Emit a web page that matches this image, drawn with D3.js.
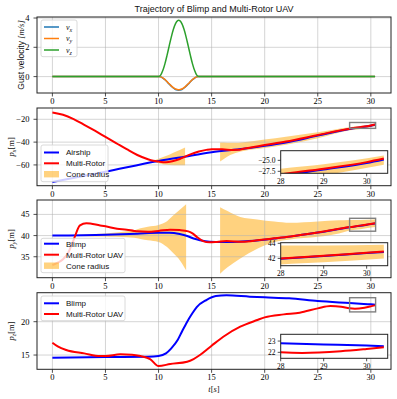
<!DOCTYPE html>
<html>
<head>
<meta charset="utf-8">
<script src="https://cdn.jsdelivr.net/npm/d3@7"></script>
<style>
body { margin: 0; background: #fff; }
svg  { display: block; }
</style>
</head>
<body>
<svg id="chart" width="397" height="399"></svg>
<script>
"use strict"

// gust velocity components
var gustT  = [0, 10, 10.2, 10.4, 10.6, 10.8, 11, 11.2, 11.4, 11.6, 11.8, 11.9, 12, 12.2, 12.4, 12.6, 12.8, 13, 13.2, 13.4, 13.6, 13.8, 30.4];
var gustVx = [0, 0, -0.02, -0.10, -0.21, -0.35, -0.51, -0.65, -0.78, -0.88, -0.92, -0.93, -0.92, -0.88, -0.78, -0.65, -0.51, -0.35, -0.21, -0.10, -0.02, 0, 0];
var gustVy = [0, 0, -0.02, -0.09, -0.20, -0.34, -0.49, -0.63, -0.75, -0.85, -0.89, -0.90, -0.89, -0.85, -0.75, -0.63, -0.49, -0.34, -0.20, -0.09, -0.02, 0, 0];
var gustVz = [0, 0, 0.10, 0.41, 0.87, 1.45, 2.08, 2.70, 3.23, 3.62, 3.82, 3.85, 3.82, 3.62, 3.23, 2.70, 2.08, 1.45, 0.87, 0.41, 0.10, 0, 0];

// p_x
var pxBlueT = [0, 5, 10, 12, 15, 18, 20, 22, 25, 28, 29, 30, 30.4];
var pxBlue  = [-75, -66, -56.5, -53.5, -48.8, -45.8, -43.3, -40.3, -34.3, -28.5, -27.1, -25.6, -24.8];
var pxRedT  = [0, 1, 2, 3, 4, 5, 6, 7, 8, 9, 9.5, 10, 10.7, 11.3, 12, 12.5, 13, 13.8, 14.5, 15, 16, 17, 17.5, 18, 20, 22, 25, 28, 29, 30, 30.4];
var pxRed   = [-14, -16, -19.8, -24.8, -30, -35.4, -40.8, -46.2, -51.3, -55, -56.3, -57, -57.6, -56.8, -54.8, -52.7, -50.8, -48.3, -46.8, -46.2, -46.3, -46.9, -46.8, -45.8, -42.6, -39.5, -33.8, -28.2, -26.9, -25.4, -24.6];
var pxCone1T  = [9.5, 10, 11, 12, 12.5];
var pxCone1Hi = [-56.3, -54.5, -51, -47, -44.8];
var pxCone1Lo = [-57, -58.5, -60, -60.2, -60.3];
var pxCone2T  = [15.8, 16.5, 17.5, 18, 20, 22, 25, 28, 29, 30.4];
var pxCone2Hi = [-40.4, -40.5, -40.6, -40.2, -37.8, -35.2, -31.3, -26.9, -25.9, -23.9];
var pxCone2Lo = [-57, -52.5, -48.8, -47.8, -45.2, -42.3, -36.7, -29.7, -28.4, -26];

// p_y
var pyBlueT = [0, 5, 8, 10, 11, 12, 12.7, 13.3, 13.9, 14.8, 16, 17, 18.5, 19.5, 20.9, 22.4, 25, 28, 29, 30, 30.4];
var pyBlue  = [40, 40.2, 40.45, 40.65, 40.65, 40.35, 39.9, 39.3, 38.9, 38.55, 38.5, 38.5, 38.7, 38.9, 39.3, 39.75, 40.7, 41.95, 42.3, 42.7, 42.85];
var pyRedT  = [0, 0.5, 1, 1.5, 2, 2.6, 3.2, 4.5, 5, 6.1, 7, 7.7, 8, 9, 10, 11.1, 12, 12.8, 13.2, 13.6, 14.2, 14.8, 15.5, 16.4, 17.9, 19.5, 20.9, 22.4, 25, 28, 29, 30, 30.4];
var pyRed   = [33, 33.6, 34.4, 36, 39, 42.4, 42.9, 42.4, 42.2, 41.6, 41.4, 41.1, 41, 40.9, 41.1, 41.4, 41.3, 41, 40.5, 39.7, 38.7, 38.4, 38.5, 38.7, 38.55, 38.95, 39.35, 39.8, 40.75, 42.0, 42.35, 42.75, 42.9];
var pyCone1T  = [2.6, 4, 5, 6, 7, 7.7, 8.3, 9, 10, 10.8, 11.4, 12, 12.6];
var pyCone1Hi = [40.2, 40.4, 40.5, 40.7, 41, 41.2, 41.7, 42.1, 42.5, 43.4, 44.8, 46.1, 47.4];
var pyCone1Lo = [39.9, 39.8, 39.8, 39.7, 39.6, 39.5, 39.2, 38.9, 38.5, 37.3, 35.8, 34.2, 31.8];
var pyCone2T  = [15.8, 16.5, 17.7, 19.3, 20.9, 22.4, 25, 27, 28, 29, 30.4];
var pyCone2Hi = [46.7, 45.8, 44.4, 43.8, 43.3, 43.0, 43.3, 43.6, 43.7, 43.7, 43.8];
var pyCone2Lo = [31.0, 32.5, 34.6, 36.9, 38.5, 39.1, 39.7, 40.5, 41.2, 41.5, 42.0];

// p_z
var pzBlueT = [0, 5, 9, 10, 10.7, 11.2, 11.8, 12.2, 12.7, 13.2, 13.6, 14.5, 15.4, 16.4, 18.6, 20, 22.3, 25, 28, 29, 30, 30.4];
var pzBlue  = [14.6, 14.7, 14.75, 14.85, 15.25, 16.0, 17.25, 18.5, 20.0, 21.3, 22.2, 23.25, 23.85, 23.95, 23.75, 23.65, 23.5, 23.1, 22.8, 22.7, 22.6, 22.55];
var pzRedT  = [0, 0.5, 1.3, 3, 4.5, 5, 6.4, 7.5, 8.3, 8.9, 9.2, 10, 11.1, 12.7, 13.3, 13.9, 15, 16.1, 17.7, 19.3, 20, 21.8, 23.3, 25, 26.2, 27.2, 28, 28.5, 29.4, 30, 30.4];
var pzRed   = [16.85, 16.3, 15.75, 15.25, 14.85, 14.85, 15.1, 15.05, 14.85, 14.6, 14.4, 13.35, 13.65, 14.0, 14.4, 15.0, 16.4, 17.75, 19.25, 20.25, 20.65, 21.1, 21.35, 22.0, 22.35, 22.25, 22.0, 21.95, 22.1, 22.3, 22.45];

var xTicks      = [0, 5, 10, 15, 20, 25, 30];
var insetXTicks = [28, 29, 30];

var serif = '"Liberation Serif", "DejaVu Serif", serif';
var sans  = '"Liberation Sans", "DejaVu Sans", sans-serif';
var coneColor = '#ffa500';

var svg = d3.select('#chart');
var defs = svg.append('defs');

var xMain  = d3.scaleLinear().domain([-1.45, 31.9]).range([37, 391]);
var xInset = d3.scaleLinear().domain([28, 30.49]).range([280.7, 387.7]);

function zip(t, v) { return t.map((d, i) => [d, v[i]]); }
function zip3(t, lo, hi) { return t.map((d, i) => ({ t: d, lo: lo[i], hi: hi[i] })); }
function fmt(v, dec) {
    var s = Math.abs(v).toFixed(dec);
    return (v < 0 ? '\u2212' : '') + s;
}

function richText(sel, parts) {
    parts.forEach(function(p) {
        var ts = sel.append('tspan').text(p.t);
        if (p.f)   ts.attr('font-family', p.f);
        if (p.it)  ts.attr('font-style', 'italic');
        if (p.dy)  ts.attr('dy', p.dy);
        if (p.fs)  ts.attr('font-size', p.fs);
    });
}

var clipId = 0;
function drawData(g, x, y, lines, cones) {
    var id = 'clip' + (clipId++);
    var r = x.range(), ry = y.range();
    defs.append('clipPath').attr('id', id).append('rect')
        .attr('x', r[0]).attr('y', ry[1])
        .attr('width', r[1] - r[0]).attr('height', ry[0] - ry[1]);
    var c = g.append('g').attr('clip-path', 'url(#' + id + ')');
    var area = d3.area()
        .x(d => x(d.t)).y0(d => y(d.lo)).y1(d => y(d.hi))
        .curve(d3.curveMonotoneX);
    cones.forEach(function(cn) {
        c.append('path').attr('d', area(cn))
            .attr('fill', coneColor).attr('fill-opacity', 0.5);
    });
    return c;
}

function drawLines(c, x, y, lines) {
    var line = d3.line().x(d => x(d[0])).y(d => y(d[1])).curve(d3.curveMonotoneX);
    lines.forEach(function(ln) {
        c.append('path').attr('d', line(ln.data))
            .attr('fill', 'none').attr('stroke', ln.color)
            .attr('stroke-width', ln.width).attr('stroke-linejoin', 'round');
    });
}

function drawLegend(g, box, items) {
    g.append('rect')
        .attr('x', box[0]).attr('y', box[1])
        .attr('width', box[2] - box[0]).attr('height', box[3] - box[1])
        .attr('rx', 2).attr('fill', '#fff').attr('fill-opacity', 0.8)
        .attr('stroke', '#d0d0d0').attr('stroke-width', 0.8);
    items.forEach(function(it) {
        if (it.patch)
            g.append('rect').attr('x', box[0] + 3).attr('y', it.y - 3.2)
                .attr('width', 15).attr('height', 6.4)
                .attr('fill', coneColor).attr('fill-opacity', 0.5);
        else
            g.append('line').attr('x1', box[0] + 3).attr('x2', box[0] + 18)
                .attr('y1', it.y).attr('y2', it.y)
                .attr('stroke', it.color).attr('stroke-width', it.width);
        var t = g.append('text').attr('x', box[0] + 25).attr('y', it.y + 2.9)
            .attr('font-family', sans).attr('font-size', '8px').attr('fill', '#111');
        richText(t, it.label);
    });
}

function drawInset(g, inset, lines, cones) {
    var y = d3.scaleLinear().domain(inset.y).range([inset.bottom, inset.top]);
    // zoom marker in the main axes
    g.append('rect')
        .attr('x', inset.xMain(28)).attr('y', inset.yMain(inset.y[1]))
        .attr('width', inset.xMain(30.45) - inset.xMain(28))
        .attr('height', inset.yMain(inset.y[0]) - inset.yMain(inset.y[1]))
        .attr('fill', 'none').attr('stroke', '#808080').attr('stroke-width', 1.4);
    var ig = g.append('g');
    ig.append('rect').attr('x', 280.7).attr('y', inset.top)
        .attr('width', 107).attr('height', inset.bottom - inset.top).attr('fill', '#fff');
    var c = drawData(ig, xInset, y, lines, cones);
    drawLines(c, xInset, y, lines);
    ig.append('rect').attr('x', 280.7).attr('y', inset.top)
        .attr('width', 107).attr('height', inset.bottom - inset.top)
        .attr('fill', 'none').attr('stroke', '#222').attr('stroke-width', 1);
    insetXTicks.forEach(function(v) {
        ig.append('line').attr('x1', xInset(v)).attr('x2', xInset(v))
            .attr('y1', inset.bottom).attr('y2', inset.bottom + 3)
            .attr('stroke', '#222').attr('stroke-width', 0.8);
        ig.append('text').attr('x', xInset(v)).attr('y', inset.bottom + 10.5)
            .attr('text-anchor', 'middle').attr('font-family', serif)
            .attr('font-size', '7.5px').text(v);
    });
    inset.yTicks.forEach(function(v) {
        ig.append('line').attr('x1', 280.7).attr('x2', 277.7)
            .attr('y1', y(v)).attr('y2', y(v))
            .attr('stroke', '#222').attr('stroke-width', 0.8);
        ig.append('text').attr('x', 275.5).attr('y', y(v) + 2.6)
            .attr('text-anchor', 'end').attr('font-family', serif)
            .attr('font-size', '7.5px').text(fmt(v, inset.dec));
    });
}

function drawPanel(p) {
    var g = svg.append('g');
    var y = d3.scaleLinear().domain(p.y).range([p.bottom, p.top]);
    var c = drawData(g, xMain, y, p.lines, p.cones);

    // grid above the cone fill, below the lines
    xTicks.forEach(function(v) {
        c.append('line').attr('x1', xMain(v)).attr('x2', xMain(v))
            .attr('y1', p.top).attr('y2', p.bottom)
            .attr('stroke', '#b0b0b0').attr('stroke-opacity', 0.6).attr('stroke-width', 0.9);
    });
    p.yTicks.forEach(function(v) {
        c.append('line').attr('x1', 37).attr('x2', 391)
            .attr('y1', y(v)).attr('y2', y(v))
            .attr('stroke', '#b0b0b0').attr('stroke-opacity', 0.6).attr('stroke-width', 0.9);
    });
    drawLines(c, xMain, y, p.lines);

    g.append('rect').attr('x', 37).attr('y', p.top)
        .attr('width', 354).attr('height', p.bottom - p.top)
        .attr('fill', 'none').attr('stroke', '#222').attr('stroke-width', 1);

    xTicks.forEach(function(v) {
        g.append('line').attr('x1', xMain(v)).attr('x2', xMain(v))
            .attr('y1', p.bottom).attr('y2', p.bottom + 3.5)
            .attr('stroke', '#222').attr('stroke-width', 0.8);
        g.append('text').attr('x', xMain(v)).attr('y', p.bottom + 11)
            .attr('text-anchor', 'middle').attr('font-family', serif)
            .attr('font-size', '8.5px').text(v);
    });
    p.yTicks.forEach(function(v) {
        g.append('line').attr('x1', 37).attr('x2', 33.5)
            .attr('y1', y(v)).attr('y2', y(v))
            .attr('stroke', '#222').attr('stroke-width', 0.8);
        g.append('text').attr('x', 29.5).attr('y', y(v) + 3)
            .attr('text-anchor', 'end').attr('font-family', serif)
            .attr('font-size', '8.5px').text(fmt(v, 0));
    });

    var cy = (p.top + p.bottom) / 2;
    var yl = g.append('text')
        .attr('transform', 'translate(' + p.ylabelX + ',' + cy + ') rotate(-90)')
        .attr('text-anchor', 'middle').attr('font-size', '8.5px').attr('fill', '#111');
    richText(yl, p.ylabel);

    drawLegend(g, p.legendBox, p.legend);

    if (p.inset) {
        p.inset.xMain = xMain;
        p.inset.yMain = y;
        drawInset(g, p.inset, p.lines, p.cones);
    }
}

var sub = function(s) { return [{ t: s, f: serif, it: true, dy: 2, fs: '6px' }]; };

var panels = [
    {
        top: 17, bottom: 93, y: [-1.12, 4.07], yTicks: [0, 2, 4],
        lines: [
            { data: zip(gustT, gustVx), color: '#1f77b4', width: 1.5 },
            { data: zip(gustT, gustVy), color: '#ff7f0e', width: 1.5 },
            { data: zip(gustT, gustVz), color: '#2ca02c', width: 1.5 }
        ],
        cones: [],
        ylabelX: 23.5,
        ylabel: [{ t: 'Gust velocity ', f: sans }, { t: '[m/s]', f: serif, it: true }],
        legendBox: [41, 20, 77, 56.7],
        legend: [
            { y: 27,   color: '#1f77b4', width: 1.5, label: [{ t: 'v', f: serif, it: true }].concat(sub('x')) },
            { y: 38.5, color: '#ff7f0e', width: 1.5, label: [{ t: 'v', f: serif, it: true }].concat(sub('y')) },
            { y: 50,   color: '#2ca02c', width: 1.5, label: [{ t: 'v', f: serif, it: true }].concat(sub('z')) }
        ]
    },
    {
        top: 108, bottom: 185.7, y: [-78.2, -10.1], yTicks: [-60, -40, -20],
        lines: [
            { data: zip(pxBlueT, pxBlue), color: '#0000ff', width: 2 },
            { data: zip(pxRedT, pxRed),   color: '#ff0000', width: 2 }
        ],
        cones: [zip3(pxCone1T, pxCone1Lo, pxCone1Hi), zip3(pxCone2T, pxCone2Lo, pxCone2Hi)],
        ylabelX: 13.5,
        ylabel: [{ t: 'p', f: serif, it: true }, { t: 'x', f: serif, it: true, dy: 2, fs: '6px' },
                 { t: '[m]', f: serif, dy: -2 }],
        legendBox: [41, 145, 108, 181.7],
        legend: [
            { y: 152.5, color: '#0000ff', width: 2, label: [{ t: 'Airship' }] },
            { y: 163.3, color: '#ff0000', width: 2, label: [{ t: 'Multi-Rotor' }] },
            { y: 174.2, patch: true, label: [{ t: 'Cone radius' }] }
        ],
        inset: { top: 150.7, bottom: 173.3, y: [-27.95, -22.8], yTicks: [-27.5, -25], dec: 1 }
    },
    {
        top: 200, bottom: 277.7, y: [30.05, 48.4], yTicks: [35, 40, 45],
        lines: [
            { data: zip(pyBlueT, pyBlue), color: '#0000ff', width: 2 },
            { data: zip(pyRedT, pyRed),   color: '#ff0000', width: 2 }
        ],
        cones: [zip3(pyCone1T, pyCone1Lo, pyCone1Hi), zip3(pyCone2T, pyCone2Lo, pyCone2Hi)],
        ylabelX: 13.5,
        ylabel: [{ t: 'p', f: serif, it: true }, { t: 'y', f: serif, it: true, dy: 2, fs: '6px' },
                 { t: '[m]', f: serif, dy: -2 }],
        legendBox: [41, 238.3, 125, 272.7],
        legend: [
            { y: 243.7, color: '#0000ff', width: 2, label: [{ t: 'Blimp' }] },
            { y: 254.7, color: '#ff0000', width: 2, label: [{ t: 'Multi-Rotor UAV' }] },
            { y: 265.7, patch: true, label: [{ t: 'Cone radius' }] }
        ],
        inset: { top: 242.7, bottom: 265.7, y: [41.03, 44.08], yTicks: [42, 44], dec: 0 }
    },
    {
        top: 292.7, bottom: 369.3, y: [12.86, 24.35], yTicks: [15, 20],
        lines: [
            { data: zip(pzBlueT, pzBlue), color: '#0000ff', width: 2 },
            { data: zip(pzRedT, pzRed),   color: '#ff0000', width: 2 }
        ],
        cones: [],
        ylabelX: 13.5,
        ylabel: [{ t: 'p', f: serif, it: true }, { t: 'z', f: serif, it: true, dy: 2, fs: '6px' },
                 { t: '[m]', f: serif, dy: -2 }],
        legendBox: [41, 296, 125, 320.7],
        legend: [
            { y: 303.3, color: '#0000ff', width: 2, label: [{ t: 'Blimp' }] },
            { y: 314,   color: '#ff0000', width: 2, label: [{ t: 'Multi-Rotor UAV' }] }
        ],
        inset: { top: 334.3, bottom: 358.3, y: [21.47, 23.6], yTicks: [22, 23], dec: 0 }
    }
];

panels.forEach(drawPanel);

svg.append('text').attr('x', 214).attr('y', 11.5)
    .attr('text-anchor', 'middle').attr('font-family', sans)
    .attr('font-size', '9px').attr('fill', '#111')
    .text('Trajectory of Blimp and Multi-Rotor UAV');

var xl = svg.append('text').attr('x', 214).attr('y', 392)
    .attr('text-anchor', 'middle').attr('font-size', '8.5px').attr('fill', '#111');
richText(xl, [{ t: 't', f: serif, it: true }, { t: '[', f: serif }, { t: 's', f: serif, it: true }, { t: ']', f: serif }]);
</script>
</body>
</html>
